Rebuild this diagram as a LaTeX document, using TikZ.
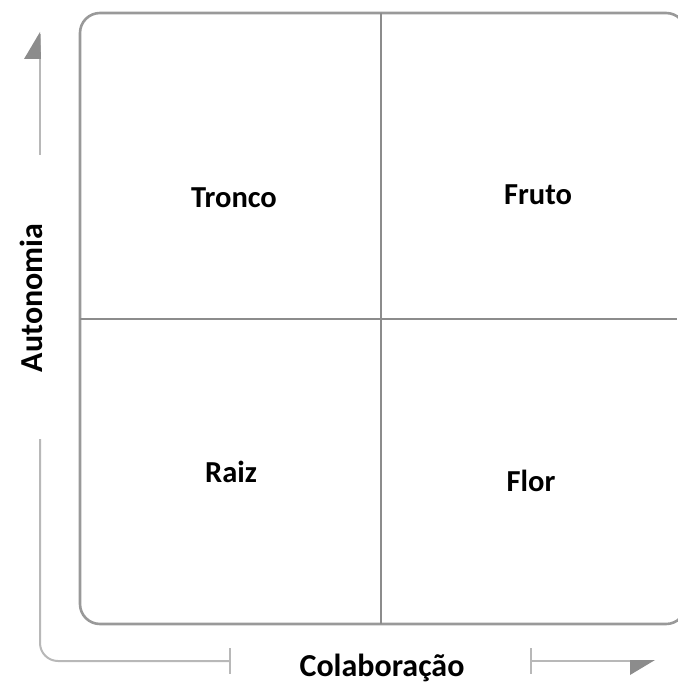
\documentclass[tikz,border=0pt]{standalone}
\usepackage{fontspec}
\setmainfont{Carlito}
\begin{document}
\begin{tikzpicture}[x=1pt,y=-1pt,
  frame/.style={draw=black!40,line width=2.6pt,rounded corners=20pt},
  divider/.style={draw=black!45,line width=1.6pt},
  axisline/.style={draw=black!28,line width=2pt},
  tip/.style={fill=black!45,draw=none},
  quad/.style={font=\bfseries\fontsize{30.5}{32}\selectfont,anchor=base,inner sep=0pt},
  axlabel/.style={font=\bfseries\fontsize{32}{34}\selectfont,inner sep=0pt}]
\useasboundingbox (0,0) rectangle (677,685);
% frame
\draw[frame] (80,13) rectangle (686,624);
\draw[divider] (381,13) -- (381,624);
\draw[divider] (80,319) -- (677,319);
% labels in quadrants
\node[quad] (tronco) at (234,207) {Tronco};
\node[quad] (fruto) at (538,204) {Fruto};
\node[quad] (raiz) at (231,482) {Raiz};
\node[quad] (flor) at (531,491) {Flor};
% axis labels
\node[axlabel,rotate=90] (auto) at (31,298) {Autonomia};
\node[axlabel,anchor=base] (colab) at (382,676) {Colaboração};
% axes
\coordinate (vtop) at (40,34);
\coordinate (vlow) at (40,155);
\coordinate (vstart) at (40,439);
\coordinate (hend) at (230,661);
\coordinate (hstart) at (531,661);
\coordinate (hright) at (632,661);
\draw[axisline] (vtop) -- (vlow);
\draw[tip] (40,32) -- (24,59) -- (41,59) -- cycle;
\draw[axisline,rounded corners=18pt] (vstart) -- (40,661) -- (hend);
\draw[axisline] (230,648) -- (230,674);
\draw[axisline] (hstart) -- (hright);
\draw[axisline] (531,648) -- (531,674);
\draw[tip] (630,660) -- (655,660) -- (630,675) -- cycle;
\end{tikzpicture}
\end{document}
